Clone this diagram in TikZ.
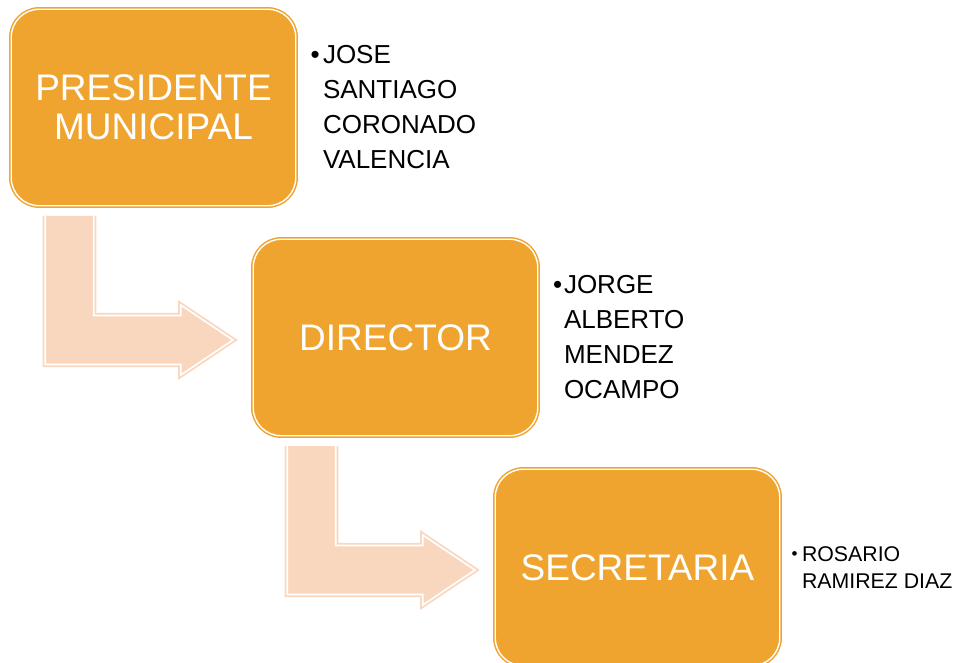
\documentclass[tikz,border=0pt]{standalone}
\usepackage{fontspec}
\setmainfont{Liberation Sans}
\definecolor{boxor}{RGB}{239,164,48}
\definecolor{arrpeach}{RGB}{248,215,190}
\tikzset{
  stepbox/.style={draw=boxor, fill=boxor, double=white, double distance=1.4pt, line width=1.5pt,
    rounded corners=28pt, minimum width=284.5pt, minimum height=196.5pt, inner sep=0pt, outer sep=0pt,
    text=white, font=\fontsize{37}{39}\selectfont, align=center},
  bent/.style={draw=arrpeach, fill=arrpeach, double=white, double distance=1.6pt, line width=1.8pt},
  person/.style={anchor=base west, inner sep=0pt, outer sep=0pt, text=black, font=\fontsize{26}{30}\selectfont},
  personsmall/.style={person, font=\fontsize{21.3}{25}\selectfont},
  bentarrow/.pic={
    \path[bent] (34,10.25) -- (34,158.75) -- (169.5,158.75) -- (169.5,169.25) -- (221.75,134.25)
      -- (169.5,99.25) -- (169.5,109.75) -- (82.5,109.75) -- (82.5,10.25);
  }
}
\begin{document}
\begin{tikzpicture}[x=1pt,y=-1pt]
\useasboundingbox (0,0) rectangle (958,663);
\clip (0,0) rectangle (958,663);
% boxes
\node[stepbox] (pres) at (153.5,107.5) {PRESIDENTE\\MUNICIPAL};
\node[stepbox] (dir) at (395.5,337.5) {DIRECTOR};
\node[stepbox] (sec) at (637.5,567.5) {SECRETARIA};
% bent arrows
\pic at (pres.south west) {bentarrow};
\pic at (dir.south west) {bentarrow};
% names
\node[person] (b1) at (310.5,63.5) {•};
\node[person] (n1a) at (323,63.5) {JOSE};
\node[person] (n1b) at (323,98.5) {SANTIAGO};
\node[person] (n1c) at (323,133.5) {CORONADO};
\node[person] (n1d) at (323,168.5) {VALENCIA};
\node[person] (b2) at (553,293) {•};
\node[person] (n2a) at (564,293) {JORGE};
\node[person] (n2b) at (564,328) {ALBERTO};
\node[person] (n2c) at (564,363) {MENDEZ};
\node[person] (n2d) at (564,398) {OCAMPO};
\node[personsmall, font=\fontsize{17}{20}\selectfont] (b3) at (791.5,559.5) {•};
\node[personsmall] (n3a) at (802,561) {ROSARIO};
\node[personsmall] (n3b) at (802,588) {RAMIREZ DIAZ};
\end{tikzpicture}
\end{document}
